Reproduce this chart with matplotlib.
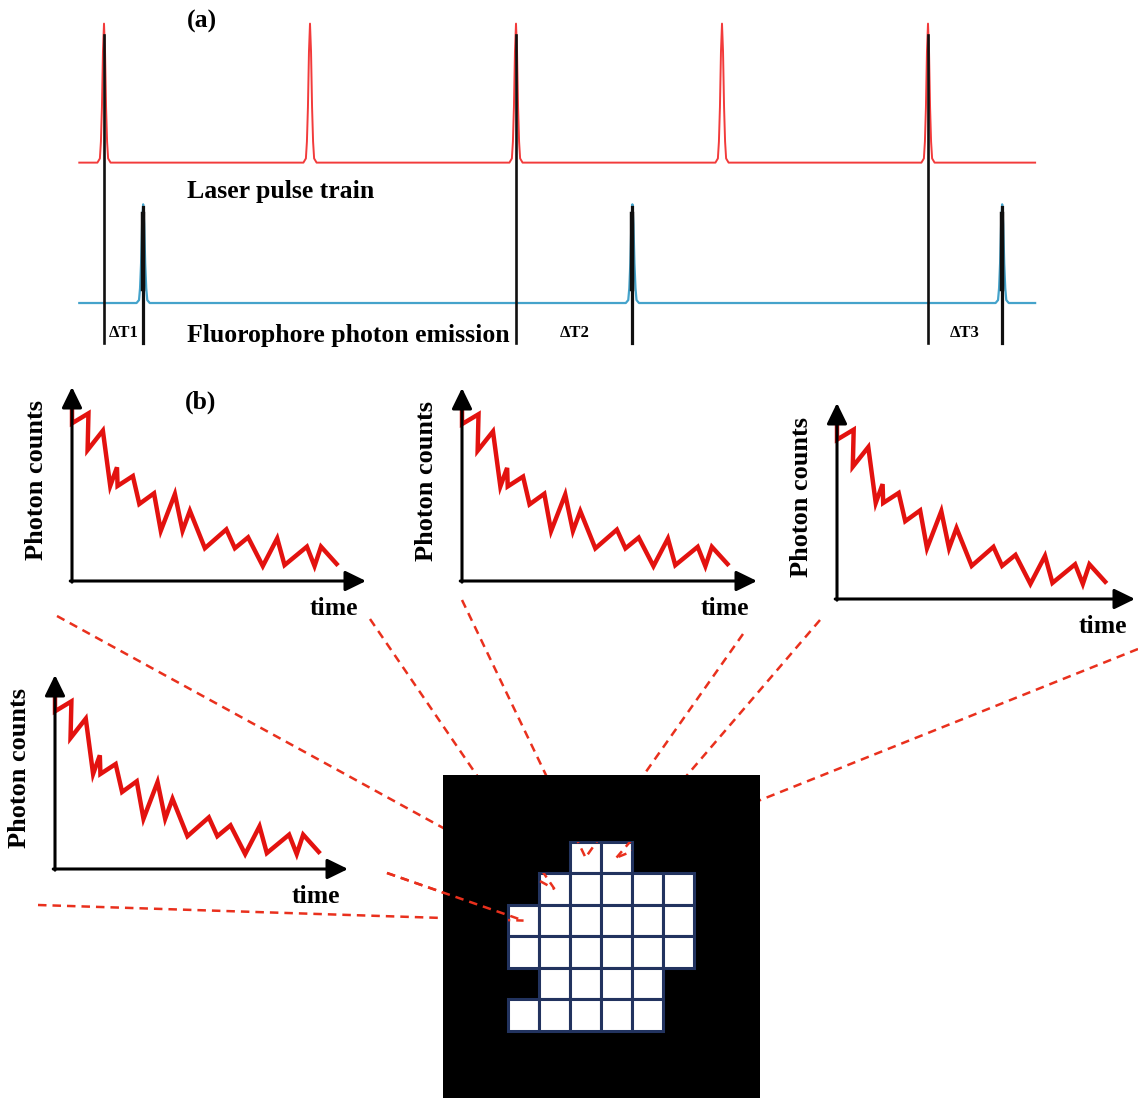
import numpy as np
import matplotlib.pyplot as plt
from matplotlib.patches import Rectangle

plt.rcParams['font.family'] = ['Liberation Serif', 'DejaVu Serif']
plt.rcParams['font.weight'] = 'bold'

FIG_W, FIG_H = 1138, 1103

# (a) pulse trains, time measured in laser periods
laser_times = [0, 1, 2, 3, 4]
emission_times = [0.19, 2.565, 4.36]
paired_laser = [0, 2, 4]
delay_labels = ['ΔT1', 'ΔT2', 'ΔT3']
# shape of a single pulse: offset from its centre (periods) and relative height
pulse_offsets = [-0.032, -0.02, -0.015, -0.01, -0.005, 0, 0.005, 0.01, 0.015, 0.02, 0.032]
pulse_heights = [0, 0.03, 0.15, 0.4, 0.8, 1, 0.8, 0.4, 0.15, 0.03, 0]

# (b) photon-count histogram shown for each selected pixel
decay_time = [0, 0, 5.6, 5.3, 10.5, 13.0, 15.3, 15.5, 20.7, 22.9, 27.9, 30.2, 35.0,
              37.6, 40.1, 45.2, 52.5, 55.4, 59.9, 64.9, 69.8, 72.3, 79.9, 82.5, 84.7, 90.0]
decay_counts = [90.7, 81.3, 86.4, 67.5, 77.5, 49.0, 58.6, 49.0, 54.1, 39.7, 45.2, 25.9, 44.8,
                25.9, 36.2, 16.9, 26.6, 16.9, 22.5, 7.7, 22.0, 8.2, 17.7, 7.7, 17.7, 8.8]

# pixels of the image that hold the sample (rows from the top)
pixel_mask = [[0, 0, 1, 1, 0, 0],
              [0, 1, 1, 1, 1, 1],
              [1, 1, 1, 1, 1, 1],
              [1, 1, 1, 1, 1, 1],
              [0, 1, 1, 1, 1, 0],
              [1, 1, 1, 1, 1, 0]]
# pixel (row, col) each decay plot belongs to
decay_pixels = [(1, 1), (0, 2), (0, 3), (2, 0)]

# layout in pixels: axis origin x, origin y, x-axis length, y-axis length
decay_frames = [(72, 581, 294, 194), (462, 581, 295, 193),
                (837, 599, 298, 196), (55, 869, 293, 194)]
# start points of the two dashed guides of every plot
guide_starts = [[(57, 616), (370, 619)], [(462, 600), (743, 634)],
                [(820, 620), (1138, 649)], [(38, 905), (387, 873)]]

fig = plt.figure(figsize=(FIG_W / 100, FIG_H / 100), dpi=100)


def px_axes(x0, y0, x1, y1):
    return fig.add_axes([x0 / FIG_W, 1 - y1 / FIG_H, (x1 - x0) / FIG_W, (y1 - y0) / FIG_H])


base = fig.add_axes([0, 0, 1, 1])
base.set_xlim(0, FIG_W)
base.set_ylim(FIG_H, 0)
base.axis('off')

# ---- (a) laser pulses and emitted photons ----
period_px, first_px = 206, 104
ax_a = px_axes(0, 0, FIG_W, 360)
ax_a.set_xlim(-first_px / period_px, (FIG_W - first_px) / period_px)
ax_a.set_ylim(0, 2.59)
ax_a.axis('off')
t_start, t_end = -0.12, 4.52


def trace(times, level, amp):
    xs, ys = [t_start], [level]
    for t in times:
        xs += [t + o for o in pulse_offsets]
        ys += [level + amp * h for h in pulse_heights]
    xs.append(t_end)
    ys.append(level)
    return xs, ys


laser_level, laser_amp = 1.42, 1.0
emis_level, emis_amp = 0.41, 0.71
ax_a.plot(*trace(laser_times, laser_level, laser_amp), color='#f23b3b', lw=1.4)
ax_a.plot(*trace(emission_times, emis_level, emis_amp), color='#45a3cb', lw=1.6)

for i, te, lab in zip(paired_laser, emission_times, delay_labels):
    tl = laser_times[i]
    ax_a.plot([tl, tl], [0.12, 2.34], color='#101010', lw=1.9)
    ax_a.plot([te, te], [0.12, emis_level + emis_amp * 0.97], color='#101010', lw=2.3)
    ax_a.plot([te, te], [emis_level + 0.1, emis_level + emis_amp * 0.9],
              color='#101010', lw=3.2)
    ax_a.text((tl + te) / 2, 0.165, lab, ha='center', va='baseline', fontsize=12)

base.text(202, 28, '(a)', ha='center', va='baseline', fontsize=18.5)
base.text(187, 198, 'Laser pulse train', ha='left', va='baseline', fontsize=18.5)
base.text(187, 342, 'Fluorophore photon emission', ha='left', va='baseline', fontsize=18.5)
base.text(201, 409, '(b)', ha='center', va='baseline', fontsize=18.5)

# ---- (b) decay plots ----
arrow = dict(arrowstyle='-|>,head_length=0.45,head_width=0.22', color='black',
             lw=2.2, mutation_scale=28, shrinkA=0, shrinkB=0)
for ox, oy, w, h in decay_frames:
    ax = px_axes(ox, oy - h, ox + w, oy)
    ax.set_xlim(0, 100)
    ax.set_ylim(0, 100)
    ax.axis('off')
    ax.annotate('', xy=(100, 0), xytext=(-0.6, 0), arrowprops=arrow)
    ax.annotate('', xy=(0, 100), xytext=(0, -0.6), arrowprops=arrow)
    ax.plot(decay_time, decay_counts, color='#e3120f', lw=3.2,
            solid_joinstyle='miter', clip_on=False)
    base.text(ox - 35, oy - 0.52 * h, 'Photon counts', rotation=90,
              ha='center', va='center', fontsize=19)
    base.text(ox + w - 32, oy + 34, 'time', ha='center', va='baseline', fontsize=18.5)

# ---- pixel image ----
ax_g = px_axes(443, 775, 760, 1098)
ax_g.set_facecolor('black')
ax_g.set_xlim(-2.1, 8.13)
ax_g.set_ylim(8.13, -2.12)
ax_g.set_xticks([])
ax_g.set_yticks([])
for s in ax_g.spines.values():
    s.set_visible(False)
for r, row in enumerate(pixel_mask):
    for c, on in enumerate(row):
        if on:
            ax_g.add_patch(Rectangle((c, r), 1, 1, facecolor='white',
                                     edgecolor='#22335f', lw=2.2))

# dashed guides from each plot to its pixel
guide = dict(color='#e9301d', lw=1.8, dashes=(3.4, 2.4))
to_base = base.transData.inverted()
for k, ((r, c), starts) in enumerate(zip(decay_pixels, guide_starts)):
    tx, ty = to_base.transform(ax_g.transData.transform((c + 0.5, r + 0.5)))
    for j, (sx, sy) in enumerate(starts):
        base.plot([sx, tx], [sy, ty], **guide)
        if k == 3 and j == 1:
            # this guide runs across the dark frame as well
            ax_g.plot([sx, tx], [sy, ty], transform=base.transData, clip_on=False, **guide)
            continue
        seg, = ax_g.plot([sx, tx], [sy, ty], transform=base.transData, **guide)
        seg.set_clip_path(Rectangle((c, r), 1, 1, transform=ax_g.transData))

fig.savefig('out.png', dpi=100)
